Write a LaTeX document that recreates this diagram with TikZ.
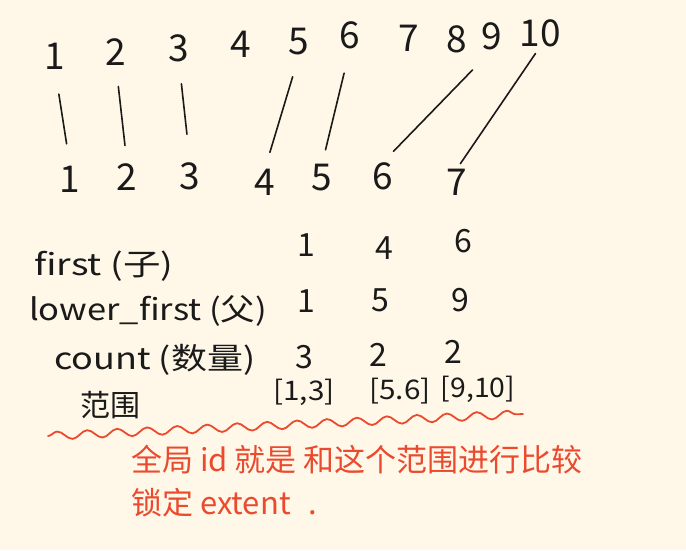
\documentclass[tikz,border=0pt]{standalone}
\usepackage{fontspec}
\setmainfont{Noto Sans CJK SC}
\usetikzlibrary{decorations.pathmorphing}
\definecolor{paper}{HTML}{FFF8E8}
\definecolor{ink}{HTML}{1A1A1A}
\definecolor{redink}{HTML}{EA4A2E}
\begin{document}
\begin{tikzpicture}[x=1pt,y=-1pt,
  digit/.style={font=\fontsize{37}{40}\selectfont, inner sep=0pt, text=ink},
  cell/.style={font=\fontsize{32}{36}\selectfont, inner sep=0pt, text=ink},
  rowlabel/.style={font=\fontsize{30}{34}\selectfont, inner sep=0pt, text=ink, anchor=west},
  rng/.style={font=\fontsize{27}{30}\selectfont, inner sep=0pt, text=ink},
  note/.style={font=\fontsize{31}{34}\selectfont, inner sep=0pt, text=redink, anchor=west},
  link/.style={draw=ink, line width=1.6pt, line cap=round},
  wave/.style={draw=redink, line width=1.8pt, line cap=round,
    decorate, decoration={snake, amplitude=4pt, segment length=30pt}}]
\fill[paper] (0,0) rectangle (686,550);
\useasboundingbox (0,0) rectangle (686,550);
% top row
\node[digit] (t1) at (55,56) {1};
\node[digit] (t2) at (116,52) {2};
\node[digit] (t3) at (179,48) {3};
\node[digit] (t4) at (241,44) {4};
\node[digit] (t5) at (299,42) {5};
\node[digit] (t6) at (350,35) {6};
\node[digit] (t7) at (409,38) {7};
\node[digit] (t8) at (457,39) {8};
\node[digit] (t9) at (492,36) {9};
\node[digit] (t10) at (540,33) {10};
% bottom row
\node[digit] (b1) at (70,179) {1};
\node[digit] (b2) at (127,177) {2};
\node[digit] (b3) at (190,176) {3};
\node[digit] (b4) at (265,182) {4};
\node[digit] (b5) at (322,178) {5};
\node[digit] (b6) at (383,176) {6};
\node[digit] (b7) at (457,182) {7};
% links
\draw[link, shorten <=25pt, shorten >=22pt] (t1.south) -- (b1.north);
\draw[link, shorten <=21pt, shorten >=18pt] (t2.south) -- (b2.north);
\draw[link, shorten <=22pt, shorten >=28pt] (t3.south) -- (b3.north);
\draw[link, shorten <=22pt, shorten >=17pt] (t5.south) -- (b4.north);
\draw[link, shorten <=25pt, shorten >=15pt] (t6.south) -- (b5.north);
\draw[link, shorten <=28pt, shorten >=15pt] (t9.south) -- (b6.north);
\draw[link, shorten <=8pt, shorten >=6pt] (t10.south) -- (b7.north);
% table labels
\node[rowlabel] (lfirst) at (34,266) {\scalebox{1.25}[1]{first (子)}};
\node[rowlabel] (llower) at (29,311) {\scalebox{1.15}[1]{lower\_first (父)}};
\node[rowlabel] (lcount) at (54,360) {\scalebox{1.2}[1]{count (数量)}};
\node[rowlabel] (lrange) at (80,405) {范围};
% table cells
\node[cell] (c11) at (306,245) {1};
\node[cell] (c12) at (384,248) {4};
\node[cell] (c13) at (463,241) {6};
\node[cell] (c21) at (306,301) {1};
\node[cell] (c22) at (380,300) {5};
\node[cell] (c23) at (460,300) {9};
\node[cell] (c31) at (304,357) {3};
\node[cell] (c32) at (378,355) {2};
\node[cell] (c33) at (453,352) {2};
\node[rng] (r1) at (304,392) {\scalebox{1.1}[1]{[1,3]}};
\node[rng] (r2) at (400,391) {\scalebox{1.1}[1]{[5.6]}};
\node[rng] (r3) at (478,389) {\scalebox{1.05}[1]{[9,10]}};
% red wave and notes
\coordinate (w0) at (48,436);
\coordinate (w1) at (523,414);
\draw[wave] (w0) -- (w1);
\node[note] (n1) at (131,460) {全局 id 就是 和这个范围进行比较};
\node[note] (n2) at (131,503) {锁定 extent\hspace{18pt}.};
\end{tikzpicture}
\end{document}
